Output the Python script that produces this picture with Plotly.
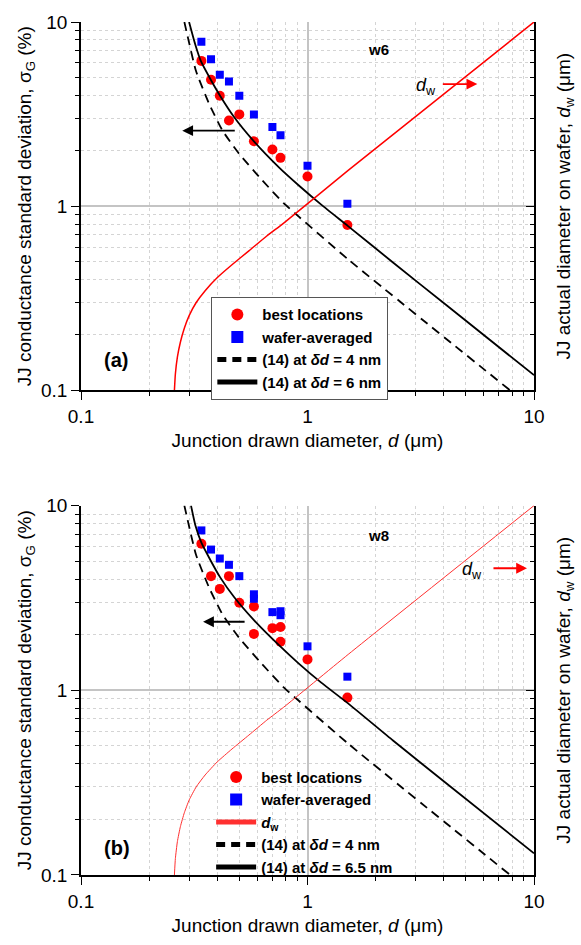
import plotly.graph_objects as go
import math

# ---------------- data ----------------
# Panel (a) wafer w6
a_d_best = [0.34, 0.375, 0.41, 0.45, 0.50, 0.58, 0.70, 0.76, 1.0, 1.5]
a_s_best = [6.15, 4.86, 3.98, 2.92, 3.15, 2.25, 2.03, 1.83, 1.45, 0.79]
a_d_wafer = [0.34, 0.375, 0.41, 0.45, 0.50, 0.58, 0.70, 0.76, 1.0, 1.5]
a_s_wafer = [7.82, 6.28, 5.17, 4.76, 3.98, 3.15, 2.69, 2.43, 1.66, 1.03]

a_solid_d = [0.300, 0.319, 0.338, 0.374, 0.411, 0.474, 0.58, 0.75, 0.913, 1.15, 1.51, 2.385, 4.15, 10.0]
a_solid_s = [10.0, 7.6, 6.15, 4.86, 3.98, 3.05, 2.25, 1.62, 1.30, 1.02, 0.78, 0.495, 0.287, 0.121]
a_dash_d = [0.286, 0.2955, 0.3217, 0.368, 0.421, 0.498, 0.630, 0.785, 0.913, 1.51, 7.85]
a_dash_s = [10.0, 8.38, 5.43, 3.59, 2.58, 1.93, 1.386, 1.038, 0.88, 0.515, 0.1]
a_dw_d = [0.2585, 0.261, 0.2664, 0.2746, 0.2859, 0.3006, 0.3226, 0.3533, 0.399, 0.464, 0.551, 0.661, 0.785, 1.512, 10.0]
a_dw_v = [0.1, 0.1227, 0.1516, 0.1826, 0.2173, 0.2553, 0.300, 0.348, 0.409, 0.481, 0.572, 0.689, 0.810, 1.564, 10.0]

# Panel (b) wafer w8
b_d_best = [0.34, 0.375, 0.41, 0.45, 0.50, 0.58, 0.58, 0.70, 0.76, 0.76, 1.0, 1.5]
b_s_best = [6.22, 4.15, 3.54, 4.15, 2.98, 2.84, 2.02, 2.17, 2.20, 1.83, 1.47, 0.913]
b_d_wafer = [0.34, 0.375, 0.41, 0.45, 0.50, 0.58, 0.58, 0.70, 0.76, 0.76, 1.0, 1.5]
b_s_wafer = [7.34, 5.78, 5.17, 4.78, 4.15, 3.31, 3.13, 2.65, 2.68, 2.55, 1.73, 1.185]

b_solid_d = [0.306, 0.32, 0.34, 0.375, 0.411, 0.474, 0.58, 0.75, 0.913, 1.15, 1.51, 2.385, 4.15, 10.0]
b_solid_s = [10.0, 7.8, 6.3, 5.0, 4.1, 3.2, 2.4, 1.75, 1.40, 1.10, 0.85, 0.535, 0.31, 0.131]
b_dash_d = [0.286, 0.2955, 0.3217, 0.368, 0.421, 0.498, 0.630, 0.785, 0.913, 1.51, 7.85]
b_dash_s = [10.0, 8.38, 5.43, 3.59, 2.58, 1.93, 1.386, 1.038, 0.88, 0.515, 0.1]
b_dw_d = [0.2585, 0.261, 0.2664, 0.2746, 0.2859, 0.3006, 0.3226, 0.3533, 0.399, 0.464, 0.551, 0.661, 0.785, 1.512, 10.0]
b_dw_v = [0.1, 0.1227, 0.1516, 0.1826, 0.2173, 0.2553, 0.300, 0.348, 0.409, 0.481, 0.572, 0.689, 0.810, 1.564, 10.0]

tick_vals = [0.1, 1, 10]
tick_text = ["0.1", "1", "10"]
minor_vals = [0.2, 0.3, 0.4, 0.5, 0.6, 0.7, 0.8, 0.9, 2, 3, 4, 5, 6, 7, 8, 9]

# ---------------- styling ----------------
FONT = "Liberation Sans, Arial, sans-serif"
RED = "#ff0000"
BLUE = "#0000ff"
W, H = 581, 945
ML, MR, MT, MB = 81, 44, 18, 68
ph = H - MT - MB
pw = W - ML - MR
dom_a = [(877 - 389) / ph, 1.0]
dom_b = [0.0, (877 - 505) / ph]

fig = go.Figure()

def add_panel(xa, ya, yr, d_best, s_best, d_waf, s_waf, sd, ss, dd, ds, wd, wv,
              legend, solid_label, dw_in_legend, dw_color, dw_width):
    fig.add_trace(go.Scatter(x=d_best, y=s_best, mode="markers", name="<b>best locations</b>",
                             marker=dict(symbol="circle", size=10, color=RED, line=dict(width=0)),
                             xaxis=xa, yaxis=ya, legend=legend))
    fig.add_trace(go.Scatter(x=d_waf, y=s_waf, mode="markers", name="<b>wafer-averaged</b>",
                             marker=dict(symbol="square", size=8, color=BLUE, line=dict(width=0)),
                             xaxis=xa, yaxis=ya, legend=legend))
    fig.add_trace(go.Scatter(x=wd, y=wv, mode="lines", name="<b><i>d</i><sub>w</sub></b>",
                             line=dict(color=dw_color, width=dw_width, shape="spline", smoothing=0.5),
                             xaxis=xa, yaxis=yr, legend=legend, showlegend=dw_in_legend))
    fig.add_trace(go.Scatter(x=dd, y=ds, mode="lines", name="<b>(14) at <i>δd</i> = 4 nm</b>",
                             line=dict(color="black", width=1.8, dash="9px,6px", shape="spline", smoothing=0.5),
                             xaxis=xa, yaxis=ya, legend=legend))
    fig.add_trace(go.Scatter(x=sd, y=ss, mode="lines", name=solid_label,
                             line=dict(color="black", width=1.8, shape="spline", smoothing=0.5),
                             xaxis=xa, yaxis=ya, legend=legend))

add_panel("x", "y", "y3", a_d_best, a_s_best, a_d_wafer, a_s_wafer, a_solid_d, a_solid_s,
          a_dash_d, a_dash_s, a_dw_d, a_dw_v, "legend", "<b>(14) at <i>δd</i> = 6 nm</b>", False, RED, 1.5)
add_panel("x2", "y2", "y4", b_d_best, b_s_best, b_d_wafer, b_s_wafer, b_solid_d, b_solid_s,
          b_dash_d, b_dash_s, b_dw_d, b_dw_v, "legend2", "<b>(14) at <i>δd</i> = 6.5 nm</b>", True, "#ff3030", 1.0)

minor_out = dict(tickmode="array", tickvals=minor_vals, ticks="outside", ticklen=4,
                 tickcolor="black", tickwidth=1, showgrid=True,
                 gridcolor="#d4d4d4", griddash="dot", gridwidth=1)
minor_in = dict(tickmode="array", tickvals=minor_vals, ticks="inside", ticklen=4,
                tickcolor="black", tickwidth=1, showgrid=False)

title_font = dict(family=FONT, size=19, color="black")

def xaxis_main(anchor):
    return dict(type="log", range=[-1, 1], domain=[0, 1], anchor=anchor,
                tickmode="array", tickvals=tick_vals, ticktext=tick_text, ticks="outside", ticklen=8,
                tickcolor="black", tickwidth=1.2,
                showgrid=True, gridcolor="#c4c4c4", gridwidth=1.5,
                showline=True, linecolor="black", linewidth=1.5, mirror=False,
                minor=minor_out, zeroline=False,
                tickfont=dict(family=FONT, size=19, color="black"),
                title=dict(text="Junction drawn diameter, <i>d</i> (μm)", font=title_font, standoff=8))

def xaxis_top(over, anchor):
    return dict(type="log", range=[-1, 1], overlaying=over, side="top", anchor=anchor,
                tickmode="array", tickvals=tick_vals, ticks="inside", ticklen=8, tickcolor="black",
                tickwidth=1.2, showticklabels=False, showgrid=False, showline=True,
                linecolor="black", linewidth=1.5, minor=minor_in, zeroline=False)

def yaxis_left(anchor, dom):
    return dict(type="log", range=[-1, 1], domain=dom, anchor=anchor,
                tickmode="array", tickvals=tick_vals, ticktext=tick_text, ticks="outside", ticklen=8,
                tickcolor="black", tickwidth=1.2,
                showgrid=True, gridcolor="#c4c4c4", gridwidth=1.5,
                showline=True, linecolor="black", linewidth=1.5, mirror=False,
                minor=minor_out, zeroline=False,
                tickfont=dict(family=FONT, size=19, color="black"),
                title=dict(text="JJ conductance standard deviation, σ<sub>G</sub> (%)",
                           font=title_font, standoff=4))

def yaxis_right(over, anchor):
    return dict(type="log", range=[-1, 1], overlaying=over, side="right", anchor=anchor,
                tickmode="array", tickvals=tick_vals, ticks="inside", ticklen=8, tickcolor="black",
                tickwidth=1.2, showticklabels=False, showgrid=False, showline=True,
                linecolor="black", linewidth=1.5, minor=minor_in, zeroline=False,
                title=dict(text="JJ actual diameter on wafer, <i>d</i><sub>w</sub> (μm)",
                           font=title_font, standoff=22))

legend_font = dict(family=FONT, size=15, color="black")

fig.update_layout(
    width=W, height=H, margin=dict(l=ML, r=MR, t=MT, b=MB),
    paper_bgcolor="white", plot_bgcolor="white",
    xaxis=xaxis_main("y"), yaxis=yaxis_left("x", dom_a),
    xaxis2=xaxis_main("y2"), yaxis2=yaxis_left("x2", dom_b),
    xaxis3=xaxis_top("x", "y"), yaxis3=yaxis_right("y", "x"),
    xaxis4=xaxis_top("x2", "y2"), yaxis4=yaxis_right("y2", "x2"),
    legend=dict(x=(212 - ML) / pw, y=1 - (295 - MT) / ph, xanchor="left", yanchor="top",
                bgcolor="white", bordercolor="#555555", borderwidth=1.2, font=legend_font,
                tracegroupgap=0, itemsizing="constant", itemwidth=40),
    legend2=dict(x=(212 - ML) / pw, y=1 - (762 - MT) / ph, xanchor="left", yanchor="top",
                 bgcolor="rgba(0,0,0,0)", borderwidth=0, font=legend_font,
                 tracegroupgap=0, itemsizing="constant", itemwidth=40),
    showlegend=True,
)

ann_font = dict(family=FONT, color="black")
L = math.log10
anns = [
    dict(x=L(0.124), y=L(0.146), xref="x", yref="y", text="<b>(a)</b>", showarrow=False,
         xanchor="left", font=dict(size=20, **ann_font)),
    dict(x=L(0.124), y=L(0.14), xref="x2", yref="y2", text="<b>(b)</b>", showarrow=False,
         xanchor="left", font=dict(size=20, **ann_font)),
    dict(x=L(2.05), y=L(7.1), xref="x", yref="y", text="<b>w6</b>", showarrow=False,
         font=dict(size=15, **ann_font)),
    dict(x=L(2.05), y=L(6.9), xref="x2", yref="y2", text="<b>w8</b>", showarrow=False,
         font=dict(size=15, **ann_font)),
    dict(x=L(3.35), y=L(4.45), xref="x", yref="y", text="<i>d</i><sub>w</sub>", showarrow=False,
         font=dict(size=18, **ann_font)),
    dict(x=L(5.3), y=L(4.45), xref="x2", yref="y2", text="<i>d</i><sub>w</sub>", showarrow=False,
         font=dict(size=18, **ann_font)),
    # arrows
    dict(x=L(0.28), y=L(2.57), xref="x", yref="y", ax=54, ay=0,
         showarrow=True, arrowhead=2, arrowsize=1.2, arrowwidth=1.8, arrowcolor="black", text=""),
    dict(x=L(5.62), y=L(4.6), xref="x", yref="y", ax=-36, ay=0,
         showarrow=True, arrowhead=2, arrowsize=1.2, arrowwidth=1.8, arrowcolor=RED, text=""),
    dict(x=L(0.346), y=L(2.35), xref="x2", yref="y2", ax=43, ay=0,
         showarrow=True, arrowhead=2, arrowsize=1.2, arrowwidth=1.8, arrowcolor="black", text=""),
    dict(x=L(9.31), y=L(4.58), xref="x2", yref="y2", ax=-35, ay=0,
         showarrow=True, arrowhead=2, arrowsize=1.2, arrowwidth=1.8, arrowcolor=RED, text=""),
]
fig.update_layout(annotations=anns)

fig.write_html("out.html")
